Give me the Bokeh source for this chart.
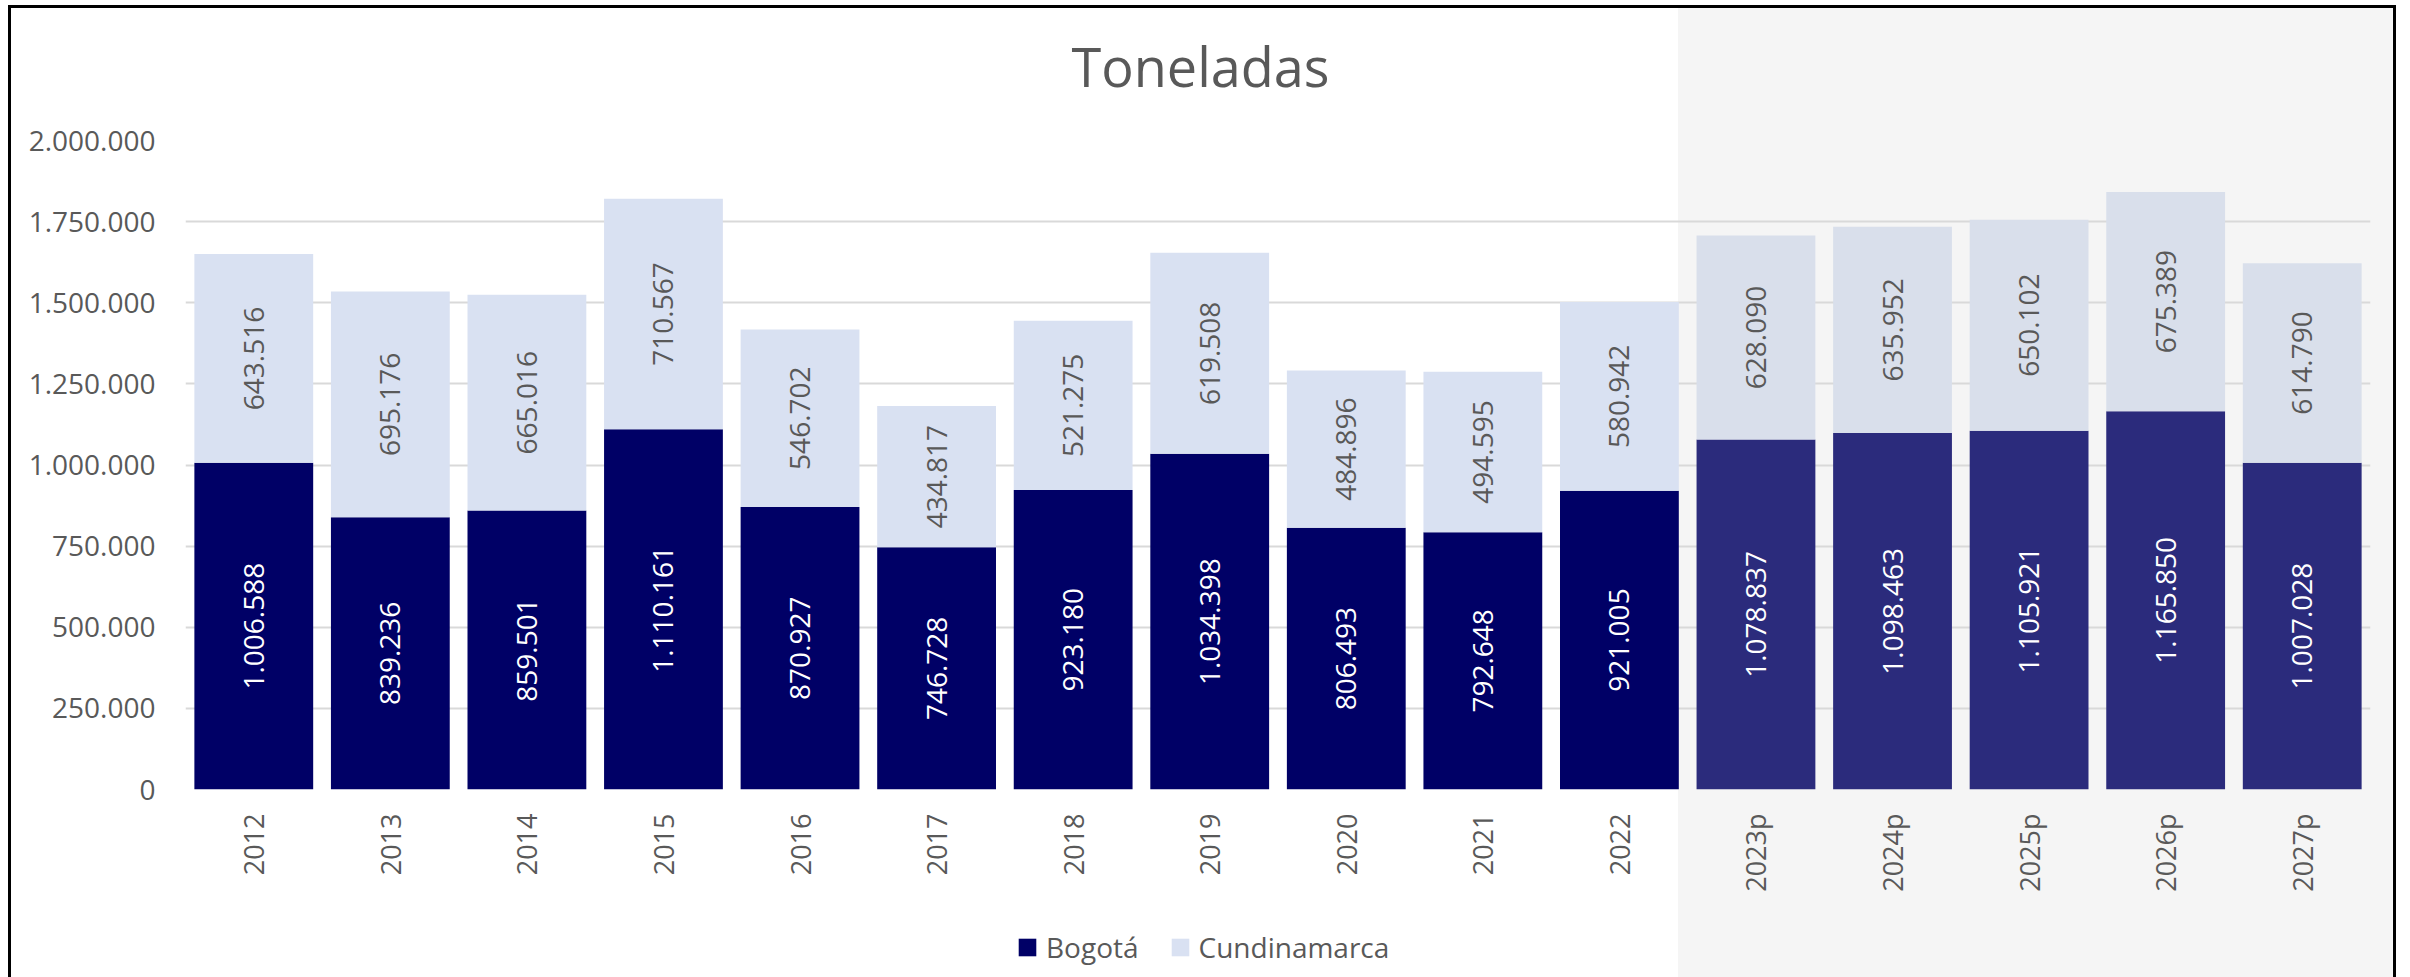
import math
from bokeh.plotting import figure
from bokeh.layouts import column
from bokeh.models import (ColumnDataSource, FactorRange, Range1d, FixedTicker, Legend,
                          LegendItem)
from bokeh.core.properties import value
from bokeh.embed import file_html
from bokeh.resources import INLINE

# ---------------- data ----------------
years = ["2012", "2013", "2014", "2015", "2016", "2017", "2018", "2019", "2020",
         "2021", "2022", "2023p", "2024p", "2025p", "2026p", "2027p"]
bogota = [1006588, 839236, 859501, 1110161, 870927, 746728, 923180, 1034398,
          806493, 792648, 921005, 1078837, 1098463, 1105921, 1165850, 1007028]
cundinamarca = [643516, 695176, 665016, 710567, 546702, 434817, 521275, 619508,
                484896, 494595, 580942, 628090, 635952, 650102, 675389, 614790]
projected = [False] * 11 + [True] * 5
y_ticks = [0, 250000, 500000, 750000, 1000000, 1250000, 1500000, 1750000, 2000000]
series_names = ["Bogotá", "Cundinamarca"]
title_text = "Toneladas"

# ---------------- style / layout ----------------
FONT = "Open Sans"
GREY_TXT = "#595959"
BOG = "#000066"
BOG_P = "#2B2B7C"
CUN = "#D9E1F2"
CUN_P = "#D9DFEB"
SHADE = "#F5F5F5"

W = 2400
TITLE_H = 112              # title strip height
TITLE_MID = 65.5           # vertical middle of the title, from the page top
PAD_TOP = 28               # space between title strip and plot frame
FL, FW, FH = 185, 2185, 649
BOTTOM = 127               # room for x labels under the frame
LEG_H = 61                 # legend strip height
LEG_LEFT = 1016            # legend box left edge on the page
LEG_BOTTOM = 11            # legend box bottom, from the page bottom
BAR_W = 0.87
BX0, BY0, BX1 = 8, 5, 2393  # outer black frame


def fmt(v):
    return f"{v:,}".replace(",", ".")


def bare(fig):
    fig.border_fill_color = None
    fig.background_fill_color = None
    fig.outline_line_color = None
    return fig


total = [b + c for b, c in zip(bogota, cundinamarca)]
src = ColumnDataSource(dict(
    year=years,
    bog=bogota,
    total=total,
    bog_mid=[b / 2 for b in bogota],
    cun_mid=[b + c / 2 for b, c in zip(bogota, cundinamarca)],
    bog_label=[fmt(v) for v in bogota],
    cun_label=[fmt(v) for v in cundinamarca],
    bog_color=[BOG_P if p else BOG for p in projected],
    cun_color=[CUN_P if p else CUN for p in projected],
))

# ---------------- title strip (its frame is aligned with the chart frame) ----------------
tf = bare(figure(width=W, height=TITLE_H, x_range=Range1d(FL, FL + FW),
                 y_range=Range1d(TITLE_H, 0),
                 x_axis_location=None, y_axis_location=None, min_border=0,
                 output_backend="svg", toolbar_location=None))
tf.grid.visible = False
tf.text(x=[W / 2], y=[TITLE_MID], text=[title_text], text_align="center",
        text_baseline="middle", text_color=GREY_TXT, text_font=value(FONT),
        text_font_size="54px")

# ---------------- main chart ----------------
p = bare(figure(
    frame_width=FW, frame_height=FH,
    x_range=FactorRange(*years, range_padding=0),
    y_range=Range1d(0, max(y_ticks)),
    output_backend="svg", toolbar_location=None,
    min_border_left=FL, min_border_top=PAD_TOP,
    min_border_right=W - FL - FW, min_border_bottom=BOTTOM,
))

p.vbar(x="year", bottom=0, top="bog", width=BAR_W, source=src,
       fill_color="bog_color", line_color=None)
p.vbar(x="year", bottom="bog", top="total", width=BAR_W, source=src,
       fill_color="cun_color", line_color=None)

p.text(x="year", y="bog_mid", text="bog_label", source=src, angle=math.pi / 2,
       text_align="center", text_baseline="middle", text_color="white",
       text_font=value(FONT), text_font_size="28px")
p.text(x="year", y="cun_mid", text="cun_label", source=src, angle=math.pi / 2,
       text_align="center", text_baseline="middle", text_color=GREY_TXT,
       text_font=value(FONT), text_font_size="28px")

p.yaxis.ticker = FixedTicker(ticks=y_ticks)
p.yaxis.major_label_overrides = {t: fmt(t) for t in y_ticks}
for ax in (p.xaxis[0], p.yaxis[0]):
    ax.axis_line_color = None
    ax.major_tick_line_color = None
    ax.minor_tick_line_color = None
    ax.major_tick_out = 0
    ax.major_tick_in = 0
    ax.minor_tick_out = 0
    ax.major_label_text_font = FONT
    ax.major_label_text_color = GREY_TXT
p.yaxis.major_label_text_font_size = "28px"
p.yaxis.major_label_standoff = 30
p.xaxis.major_label_text_font_size = "27px"
p.xaxis.major_label_orientation = math.pi / 2
p.xaxis.major_label_standoff = 24

p.xgrid.grid_line_color = None
p.ygrid.grid_line_color = "#D9D9D9"
p.ygrid.grid_line_width = 2
p.ygrid.ticker = FixedTicker(ticks=y_ticks)

# ---------------- legend strip (legend proxies kept off-screen) ----------------
lf = bare(figure(width=W, height=LEG_H, x_range=Range1d(0, 1), y_range=Range1d(0, 1),
                 x_axis_location=None, y_axis_location=None, min_border=0,
                 output_backend="svg", toolbar_location=None))
lf.grid.visible = False
l_bog = lf.rect(x=[-10], y=[-10], width=1, height=1, fill_color=BOG, line_color=None)
l_cun = lf.rect(x=[-10], y=[-10], width=1, height=1, fill_color=CUN, line_color=None)
legend = Legend(
    items=[LegendItem(label=series_names[0], renderers=[l_bog]),
           LegendItem(label=series_names[1], renderers=[l_cun])],
    orientation="horizontal", location=(LEG_LEFT - FL, LEG_BOTTOM),
    label_text_font=FONT, label_text_font_size="28px", label_text_color=GREY_TXT,
    glyph_width=22, glyph_height=22, label_standoff=8, spacing=30,
    border_line_color=None, background_fill_color=None, background_fill_alpha=0,
    margin=0, padding=2,
)
lf.add_layout(legend, "center")

# ---------------- page: shading of projected years + outer border ----------------
n_hist = projected.index(True)
cat_w = FW / len(years)
gx = FL + (n_hist - (1 - BAR_W) / 2) * cat_w
layout = column(tf, p, lf, spacing=0)
layout.styles = {
    "background": (
        f"linear-gradient(#000,#000) {BX0}px {BY0}px/3px 100% no-repeat,"
        f"linear-gradient(#000,#000) {BX1}px {BY0}px/3px 100% no-repeat,"
        f"linear-gradient(#000,#000) {BX0}px {BY0}px/{BX1 + 3 - BX0}px 3px no-repeat,"
        f"linear-gradient({SHADE},{SHADE}) {gx:.1f}px {BY0 + 3}px/{BX1 - gx:.1f}px 100% no-repeat"
    )
}

open("out.html", "w").write(file_html(layout, INLINE))
